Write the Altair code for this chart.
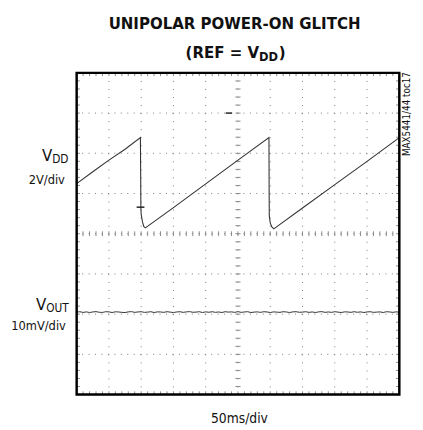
import altair as alt
import pandas as pd

FONT = "DejaVu Sans Condensed, Roboto, Liberation Sans, sans-serif"

# Scope grid: 10 horizontal divisions, 8 vertical divisions (center = 0)
# VDD trace (sawtooth), in divisions
vdd_x = [0.00, 0.50, 1.00, 1.50, 1.976, 1.985, 1.99, 2.00, 2.04, 2.08, 2.13, 3.00, 4.00, 5.00, 5.96, 5.965, 5.97, 6.00, 6.05, 6.11, 7.00, 8.00, 9.00, 10.00]
vdd_y = [1.244, 1.54, 1.83, 2.10, 2.39, 1.40, 0.66, 0.48, 0.293, 0.18, 0.146, 0.65, 1.24, 1.83, 2.39, 1.20, 0.45, 0.27, 0.17, 0.12, 0.64, 1.22, 1.80, 2.39]

# VOUT trace: flat line with small noise, in divisions
vout_level = -1.95
vout_noise = [0.00, 0.01, -0.008, 0.006, -0.01, 0.004, 0.012, -0.004, -0.008, 0.01,
              0.006, -0.01, 0.008, 0.004, -0.006, -0.01, 0.006, 0.012, -0.006, 0.004,
              0.01, -0.006, 0.00, 0.01, -0.01, 0.006, 0.004, -0.006, 0.01, 0.00,
              -0.01, 0.004, 0.01, -0.006, 0.006, 0.012, -0.004, 0.00, 0.01, -0.01,
              0.006, -0.004, 0.01, -0.006, 0.004, -0.01, 0.01, 0.00, 0.006, -0.006,
              0.012, -0.006, 0.004, 0.01, -0.01, 0.00, 0.006, -0.006, 0.01, 0.004,
              -0.01, 0.006, 0.00, -0.006, 0.01, 0.004, -0.01, 0.006, 0.01, -0.004,
              0.00, 0.01, -0.006, 0.004, -0.01, 0.006, 0.012, -0.006, 0.004, -0.006,
              0.01, 0.00, -0.01, 0.006, 0.004, -0.006, 0.01, -0.004, 0.006, -0.01,
              0.004, 0.01, -0.006, 0.00, 0.006, -0.01, 0.01, 0.004, -0.006, 0.006, 0.00]
vout_x = [i * 0.1 for i in range(len(vout_noise))]

grid_x = list(range(0, 11))
grid_y = list(range(-4, 5))
minor_x = [k / 5 for k in range(0, 51)]
minor_y = [k / 5 for k in range(-20, 21)]

W, H = 329, 328
xs = alt.Scale(domain=[0, 10], nice=False, zero=False)
ys = alt.Scale(domain=[-4, 4], nice=False, zero=False)

vdf = pd.DataFrame({"x": vdd_x, "y": vdd_y})
odf = pd.DataFrame({"x": vout_x, "y": [vout_level + n for n in vout_noise]})

gx = pd.DataFrame({"x": grid_x})
gy = pd.DataFrame({"y": grid_y})

vgrid = alt.Chart(gx).mark_rule(color="#7a7a7a", strokeWidth=1, strokeDash=[1, 7.2]).encode(
    x=alt.X("x:Q", scale=xs, axis=None))
hgrid = alt.Chart(gy).mark_rule(color="#7a7a7a", strokeWidth=1, strokeDash=[1, 5.58]).encode(
    y=alt.Y("y:Q", scale=ys, axis=None))

# minor ticks on center cross and frame
tx = pd.DataFrame({"x": minor_x})
ty = pd.DataFrame({"y": minor_y})
tick_style = dict(color="#8a8a8a", strokeWidth=1)


def xticks(y0, y1):
    d = tx.assign(y0=y0, y1=y1)
    return alt.Chart(d).mark_rule(**tick_style).encode(
        x=alt.X("x:Q", scale=xs, axis=None),
        y=alt.Y("y0:Q", scale=ys, axis=None), y2="y1:Q")


def yticks(x0, x1):
    d = ty.assign(x0=x0, x1=x1)
    return alt.Chart(d).mark_rule(**tick_style).encode(
        y=alt.Y("y:Q", scale=ys, axis=None),
        x=alt.X("x0:Q", scale=xs, axis=None), x2="x1:Q")


ticks = [xticks(-0.06, 0.06), xticks(3.92, 4.0), xticks(-4.0, -3.92),
         yticks(4.92, 5.08), yticks(0.0, 0.1), yticks(9.9, 10.0)]

vdd_line = alt.Chart(vdf).mark_line(color="#333333", strokeWidth=1.1).encode(
    x=alt.X("x:Q", scale=xs, axis=None), y=alt.Y("y:Q", scale=ys, axis=None), order="x:Q")
vout_line = alt.Chart(odf).mark_line(color="#333333", strokeWidth=1).encode(
    x=alt.X("x:Q", scale=xs, axis=None), y=alt.Y("y:Q", scale=ys, axis=None))

# trigger / cursor markers
mk = pd.DataFrame({"x": [1.86, 4.62], "x2": [2.10, 4.82], "y": [0.66, 3.0]})
markers = alt.Chart(mk).mark_rule(color="#222222", strokeWidth=1.5).encode(
    x=alt.X("x:Q", scale=xs, axis=None), x2="x2:Q", y=alt.Y("y:Q", scale=ys, axis=None))

# frame
fr = pd.DataFrame({"x": [0], "x2": [10], "y": [-4], "y2": [4]})
frame = alt.Chart(fr).mark_rect(filled=False, stroke="#000000", strokeWidth=2.5).encode(
    x=alt.X("x:Q", scale=xs, axis=None), x2="x2:Q",
    y=alt.Y("y:Q", scale=ys, axis=None), y2="y2:Q")


def txt(text, x, y, size, align="left", weight="normal", angle=0, baseline="alphabetic"):
    kw = dict(font=FONT, fontSize=size, align=align, baseline=baseline, fontWeight=weight,
              color="#111111", text=text)
    if angle:
        kw["angle"] = angle
    return alt.Chart(pd.DataFrame({"a": [0]})).mark_text(**kw).encode(
        x=alt.value(x), y=alt.value(y))


texts = [
    txt("UNIPOLAR POWER-ON GLITCH", 161, -45, 17, align="center", weight="bold"),
    txt("(REF = V", 186, -15, 17, align="right", weight="bold"),
    txt("DD", 186, -12, 13, align="left", weight="bold"),
    txt(")", 206, -15, 17, align="left", weight="bold"),
    txt("V", -25, 90, 17, align="right"),
    txt("DD", -25, 92, 12, align="left"),
    txt("2V/div", -12, 113, 13, align="right"),
    txt("V", -31, 242, 17, align="right"),
    txt("OUT", -31, 244, 12, align="left"),
    txt("10mV/div", -11, 262, 13, align="right"),
    txt("50ms/div", 166, 357, 14, align="center"),
    txt("MAX5441/44 toc17", 337, 42, 10, align="center", angle=270, baseline="middle"),
]

chart = alt.layer(vgrid, hgrid, *ticks, vdd_line, vout_line, markers, frame, *texts).properties(
    width=W, height=H,
    autosize=alt.AutoSizeParams(type="none"),
    padding={"left": 70, "top": 62, "right": 16, "bottom": 32},
).configure_view(stroke=None).configure(background="white")

chart.save("out.html", embed_options={"renderer": "svg", "actions": False})
